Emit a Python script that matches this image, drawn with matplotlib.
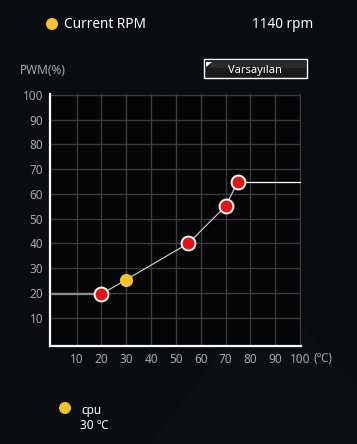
import matplotlib
matplotlib.use("Agg")
import matplotlib.pyplot as plt
from matplotlib.patches import Polygon, Rectangle, Circle

plt.rcParams['font.family'] = ['Noto Sans', 'DejaVu Sans']

# ---- data ----
curve_temp = [20, 55, 70, 75]          # fan curve control points (°C)
curve_pwm = [19.5, 40, 55, 65]         # PWM %
current_temp = [30]
current_pwm = [25]
x_ticks = [10, 20, 30, 40, 50, 60, 70, 80, 90, 100]
y_ticks = [10, 20, 30, 40, 50, 60, 70, 80, 90, 100]
x_min, x_max = 0, 100
rpm_label = "Current RPM"
rpm_value = "1140 rpm"
sensor_name = "cpu"
sensor_value = "30 ℃"
button_label = "Varsayılan"

W, H = 357, 444
fig = plt.figure(figsize=(W / 100, H / 100), dpi=100)
fig.patch.set_facecolor('#090c10')

# background overlay axes (pixel coords, y downward)
bg = fig.add_axes([0, 0, 1, 1])
bg.set_xlim(0, W)
bg.set_ylim(H, 0)
bg.axis('off')
bg.add_patch(Polygon([(150, 444), (268, 292), (357, 385), (357, 444)],
                     closed=True, facecolor='#0b1014', edgecolor='none'))

# header
bg.add_patch(Circle((52, 24), 6, facecolor='#f4c22b', edgecolor='none'))
bg.text(64, 24, rpm_label, color='white', fontsize=9.8, va='center', ha='left')
bg.text(313, 24, rpm_value, color='white', fontsize=9.8, va='center', ha='right')
bg.text(20, 70, "PWM(%)", color='#a8a8a8', fontsize=8.5, va='center', ha='left')

# button
bg.add_patch(Rectangle((203.5, 59.5), 103, 19, facecolor='#1a1a1a',
                       edgecolor='white', linewidth=1.0))
bg.add_patch(Rectangle((204.5, 60.5), 101, 8, facecolor='#2a2a2a',
                       edgecolor='none'))
bg.add_patch(Polygon([(206, 62), (212, 62), (206, 67)], closed=True,
                     facecolor='white', edgecolor='none'))
bg.text(255, 70, button_label, color='white', fontsize=8, va='center', ha='center')

# footer legend
bg.add_patch(Circle((65, 408), 6, facecolor='#f4c22b', edgecolor='none'))
bg.text(81, 410, sensor_name, color='white', fontsize=8.5, va='center', ha='left')
bg.text(80, 425, sensor_value, color='white', fontsize=8.5, va='center', ha='left')

# unit label for x-axis
bg.text(313, 358, "(℃)", color='#a8a8a8', fontsize=8.5, va='center', ha='left')

# ---- main chart ----
ax = fig.add_axes([50 / W, 1 - 346 / H, 251 / W, 252 / H])
ax.set_facecolor('#040507')
ax.set_xlim(-0.72, 100.4)
ax.set_ylim(-1.5, 100.4)
ax.set_xticks(x_ticks)
ax.set_yticks(y_ticks)
ax.set_xticklabels([str(t) for t in x_ticks])
ax.set_yticklabels([str(t) for t in y_ticks])
ax.grid(True, color='#3c3c3c', linewidth=1.0)
ax.set_axisbelow(True)
ax.tick_params(length=0, colors='#a8a8a8', labelsize=8.5)
ax.tick_params(axis='x', pad=5)
ax.tick_params(axis='y', pad=5)
for side in ['top', 'right']:
    ax.spines[side].set_visible(False)
for side in ['left', 'bottom']:
    ax.spines[side].set_color('white')
    ax.spines[side].set_linewidth(1.6)

# flat segment before first point
ax.plot([x_min, curve_temp[0]], [curve_pwm[0], curve_pwm[0]],
        color='#8c8c8c', linewidth=1.6, zorder=3)
# flat segment after last point
ax.plot([curve_temp[-1], x_max], [curve_pwm[-1], curve_pwm[-1]],
        color='white', linewidth=0.9, zorder=3)
# curve
ax.plot(curve_temp, curve_pwm, color='#d8d8d8', linewidth=0.8, zorder=3)
ax.plot(curve_temp, curve_pwm, linestyle='none', marker='o', markersize=10,
        markerfacecolor='#ee0f0f', markeredgecolor='white',
        markeredgewidth=1.4, zorder=5)
ax.plot(current_temp, current_pwm, linestyle='none', marker='o', markersize=9.5,
        markerfacecolor='#f4c22b', markeredgecolor='none', zorder=6)

fig.savefig('out.png', dpi=100, facecolor=fig.get_facecolor())
